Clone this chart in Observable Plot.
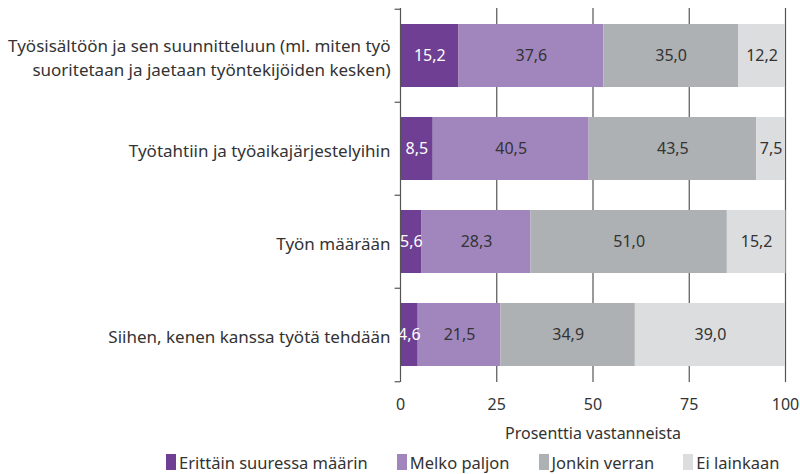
<!DOCTYPE html>
<html>
<head>
<meta charset="utf-8">
<script src="https://cdn.jsdelivr.net/npm/d3@7"></script>
<script src="https://cdn.jsdelivr.net/npm/@observablehq/plot@0.6"></script>
<style>
  html, body { margin: 0; padding: 0; background: #fff; }
  body { width: 800px; height: 474px; overflow: hidden; font-family: "Noto Sans", sans-serif; color: #333; }
  #chart svg { display: block; }
  #legend { display: flex; align-items: center; margin-left: 166px; margin-top: 4px; font-size: 16.5px; height: 26px; white-space: nowrap; }
  #legend .item { display: flex; align-items: center; margin-right: 29px; white-space: nowrap; flex: none; }
  #legend .sw { width: 10px; height: 16px; margin-right: 3px; }
</style>
</head>
<body>
<div id="chart"></div>
<div id="legend"></div>
<script>
const categories = [
  "Työsisältöön ja sen suunnitteluun (ml. miten työ\nsuoritetaan ja jaetaan työntekijöiden kesken)",
  "Työtahtiin ja työaikajärjestelyihin",
  "Työn määrään",
  "Siihen, kenen kanssa työtä tehdään"
];
const seriesNames = ["Erittäin suuressa määrin", "Melko paljon", "Jonkin verran", "Ei lainkaan"];
const seriesColors = ["#6f3f93", "#a086bd", "#aeb1b3", "#dcddde"];
const labelColors = ["#ffffff", "#333333", "#333333", "#333333"];
const erittain = [15.2, 8.5, 5.6, 4.6];
const melko = [37.6, 40.5, 28.3, 21.5];
const jonkin = [35.0, 43.5, 51.0, 34.9];
const eiLainkaan = [12.2, 7.5, 15.2, 39.0];
const xTicks = [0, 25, 50, 75, 100];
const xLabel = "Prosenttia vastanneista";

const seriesValues = [erittain, melko, jonkin, eiLainkaan];
const data = [];
categories.forEach((c, i) => {
  seriesNames.forEach((s, j) => {
    data.push({category: c, series: s, value: seriesValues[j][i], si: j});
  });
});

const fmt = v => v.toFixed(1).replace(".", ",");
const marginTop = 8, marginBottom = 63, height = 445;
const step = (height - marginTop - marginBottom) / categories.length;

const plot = Plot.plot({
  width: 800,
  height,
  marginTop,
  marginBottom,
  marginLeft: 400,
  marginRight: 15,
  style: {fontFamily: "Noto Sans, sans-serif", fontSize: "16px", color: "#333"},
  x: {domain: [0, 100], label: xLabel},
  y: {domain: categories, paddingInner: 0.325, paddingOuter: 0.1625, label: null},
  color: {domain: seriesNames, range: seriesColors},
  marks: [
    Plot.ruleX(xTicks.filter(d => d > 0), {stroke: "#555", strokeWidth: 1.2}),
    Plot.barX(data, Plot.stackX({x: "value", y: "category", fill: "series", order: seriesNames})),
    Plot.ruleX([0], {stroke: "#555", strokeWidth: 1.2}),
    Plot.ruleY(categories, {y: d => d, x1: -1.4, x2: 0, dy: -step / 2, stroke: "#555", strokeWidth: 1.2}),
    Plot.ruleY(categories.slice(-1), {y: d => d, x1: -1.4, x2: 0, dy: step / 2, stroke: "#555", strokeWidth: 1.2}),
    Plot.axisY({tickSize: 0, tickPadding: 10, fontSize: 17, lineHeight: 1.47, label: null}),
    Plot.axisX({ticks: xTicks, tickSize: 0, tickPadding: 16, fontSize: 16, label: xLabel, labelAnchor: "center", labelArrow: "none", labelOffset: 56}),
    Plot.text(data, Plot.stackX({
      x: "value", y: "category", order: seriesNames, z: "series",
      text: d => fmt(d.value),
      fill: d => labelColors[d.si],
      fontSize: 16
    }))
  ]
});
document.getElementById("chart").appendChild(plot);

const legend = document.getElementById("legend");
seriesNames.forEach((s, j) => {
  const item = document.createElement("div");
  item.className = "item";
  const sw = document.createElement("div");
  sw.className = "sw";
  sw.style.background = seriesColors[j];
  const t = document.createElement("span");
  t.textContent = s;
  item.appendChild(sw);
  item.appendChild(t);
  legend.appendChild(item);
});
</script>
</body>
</html>
